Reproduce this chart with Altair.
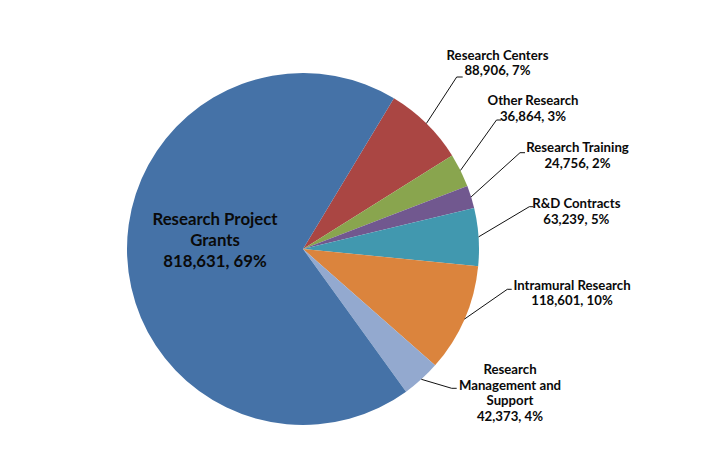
import math
import altair as alt
import pandas as pd

# ---- data ----
categories = ["Research Centers", "Other Research", "Research Training", "R&D Contracts",
              "Intramural Research", "Research Management and Support", "Research Project Grants"]
values = [88906, 36864, 24756, 63239, 118601, 42373, 818631]
label_names = ["Research Centers", "Other Research", "Research Training", "R&D Contracts",
               "Intramural Research", "Research|Management and|Support", "Research Project|Grants"]
colors = ["#AA4643", "#89A54E", "#71588F", "#4198AF", "#DB843D", "#93A9CF", "#4572A7"]

# ---- layout (pixel offsets from the pie centre) ----
CX, CY = 303, 249
W, H = 725, 460
R = 176
START = math.radians(31.1)
outside = [True, True, True, True, True, True, False]
label_x = [194.5, 230, 274.5, 273.3, 269, 207, -88]
label_y = [-193.5, -148, -100.7, -45, 36.7, 121, -29]
elbow_x = [153.7, 193.5, 217, 226.3, 204.3, 148.7, None]
elbow_y = [-172, -129, -96.3, -42.3, 40.3, 139.3, None]
tick_x = [159.7, 198, 222, 230.3, 208.7, 153.7, None]

df = pd.DataFrame({
    "category": categories, "value": values, "label_name": label_names,
    "idx": list(range(len(categories))), "outside": outside,
    "label_x": label_x, "label_y": label_y,
    "elbow_x": elbow_x, "elbow_y": elbow_y, "tick_x": tick_x,
})

xs = alt.Scale(domain=[-CX, W - CX], range=[0, W])
ys = alt.Scale(domain=[-CY, H - CY], range=[0, H])

base = (
    alt.Chart(df)
    .transform_joinaggregate(total="sum(value)")
    .transform_window(cum="sum(value)", sort=[alt.SortField("idx")], frame=[None, 0])
    .transform_calculate(
        mid=f"{START} + 2*PI*(datum.cum - datum.value/2)/datum.total",
    )
    .transform_calculate(
        ex=f"{R}*sin(datum.mid)",
        ey=f"-{R}*cos(datum.mid)",
        label="datum.label_name + '|' + format(datum.value, ',') + ', ' + format(datum.value/datum.total, '.0%')",
    )
)

pie = base.mark_arc(radius=R).encode(
    theta=alt.Theta("value:Q", stack=True,
                    scale=alt.Scale(range=[START, START + 2 * math.pi], nice=False, zero=True)),
    color=alt.Color("category:N", scale=alt.Scale(domain=categories, range=colors), legend=None),
    order=alt.Order("idx:Q"),
    x=alt.XDatum(0, scale=xs, axis=None),
    y=alt.YDatum(0, scale=ys, axis=None),
)

outer = base.transform_filter("datum.outside")

leader = outer.mark_rule(color="#111111", strokeWidth=1).encode(
    x=alt.X("ex:Q", scale=xs, axis=None),
    y=alt.Y("ey:Q", scale=ys, axis=None),
    x2="elbow_x:Q",
    y2="elbow_y:Q",
)

tick = outer.mark_rule(color="#111111", strokeWidth=1).encode(
    x=alt.X("elbow_x:Q", scale=xs, axis=None),
    x2="tick_x:Q",
    y=alt.Y("elbow_y:Q", scale=ys, axis=None),
)

outer_text = outer.mark_text(
    font="Lato", fontWeight="bold", fontSize=13.2, lineBreak="|", lineHeight=15.7,
    align="center", baseline="middle", color="#0a0a0a",
).encode(
    x=alt.X("label_x:Q", scale=xs, axis=None),
    y=alt.Y("label_y:Q", scale=ys, axis=None),
    text="label:N",
)

inner_text = base.transform_filter("!datum.outside").mark_text(
    font="Lato", fontWeight="bold", fontSize=16.8, lineBreak="|", lineHeight=21,
    align="center", baseline="middle", color="#0a0a0a",
).encode(
    x=alt.X("label_x:Q", scale=xs, axis=None),
    y=alt.Y("label_y:Q", scale=ys, axis=None),
    text="label:N",
)

chart = (
    alt.layer(pie, leader, tick, outer_text, inner_text)
    .properties(width=W, height=H, padding=0, autosize="none", background="white")
    .configure_view(stroke=None)
)

chart.save("out.html", embed_options={"renderer": "svg", "actions": False})
